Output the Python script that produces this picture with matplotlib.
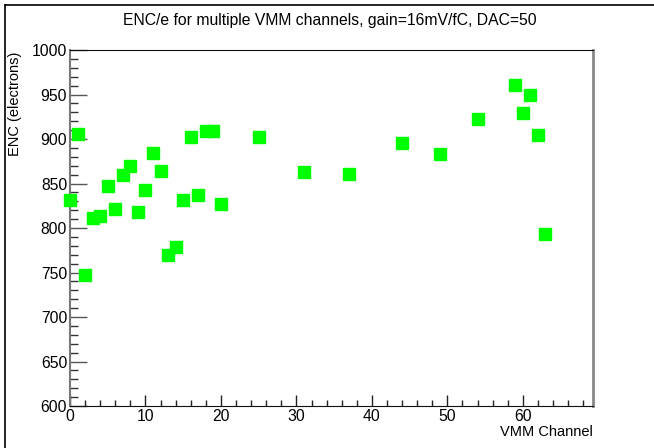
import matplotlib
matplotlib.use("Agg")
import matplotlib.pyplot as plt
from matplotlib.ticker import MultipleLocator
from matplotlib.lines import Line2D

plt.rcParams['font.family'] = ['Liberation Sans', 'DejaVu Sans']

# VMM channels and measured ENC values
channels = [0, 1, 2, 3, 4, 5, 6, 7, 8, 9, 10, 11, 12, 13, 14, 15, 16, 17, 18, 19, 20,
            25, 31, 37, 44, 49, 54, 59, 60, 61, 62, 63]
enc = [831, 906, 747, 811, 813, 847, 821, 859, 870, 818, 843, 884, 864, 770, 779, 831,
       902, 837, 909, 909, 827,
       902, 863, 861, 895, 883, 923, 961, 929, 949, 904, 793]

fig = plt.figure(figsize=(6.54, 4.48), dpi=100)
ax = fig.add_axes([70/654, 42/448, 523/654, 356/448])

ax.plot(channels, enc, linestyle='none', marker='s', markersize=8,
        color='#00ff00', markeredgecolor='#00ff00', clip_on=False, zorder=5)

ax.set_xlim(0, 69.3)
ax.set_ylim(600, 1000)
ax.xaxis.set_major_locator(MultipleLocator(10))
ax.xaxis.set_minor_locator(MultipleLocator(2))
ax.yaxis.set_major_locator(MultipleLocator(50))
ax.yaxis.set_minor_locator(MultipleLocator(10))
ax.set_xticks(range(0, 70, 10))

ax.tick_params(axis='x', which='major', direction='in', length=8, width=1, labelsize=11.3, pad=2, color='#222222')
ax.tick_params(axis='x', which='minor', direction='in', length=4.5, width=1, color='#222222')
ax.tick_params(axis='y', which='major', direction='in', length=12, width=1, labelsize=11.3, pad=2, color='#555555')
ax.tick_params(axis='y', which='minor', direction='in', length=6, width=1, color='#333333')

ax.spines['left'].set_color('#777777')
ax.spines['left'].set_linewidth(1.5)
ax.spines['right'].set_color('#888888')
ax.spines['right'].set_linewidth(2)
ax.spines['top'].set_color('#111111')
ax.spines['bottom'].set_color('#111111')

fig.text(330/654, 1 - 21/448, "ENC/e for multiple VMM channels, gain=16mV/fC, DAC=50",
         ha='center', va='center', fontsize=11.3)
fig.text(15/654, 1 - 52/448, "ENC (electrons)", rotation=90, ha='center', va='top', fontsize=10.5)
fig.text(593/654, 1 - 432/448, "VMM Channel", ha='right', va='center', fontsize=10.5)

# canvas frame lines (top and left)
fig.add_artist(Line2D([5/654, 5/654], [0, 1 - 5/448], color='black', linewidth=1.2, transform=fig.transFigure))
fig.add_artist(Line2D([5/654, 1], [1 - 5/448, 1 - 5/448], color='black', linewidth=1.2, transform=fig.transFigure))

fig.savefig("out.png", dpi=100)
